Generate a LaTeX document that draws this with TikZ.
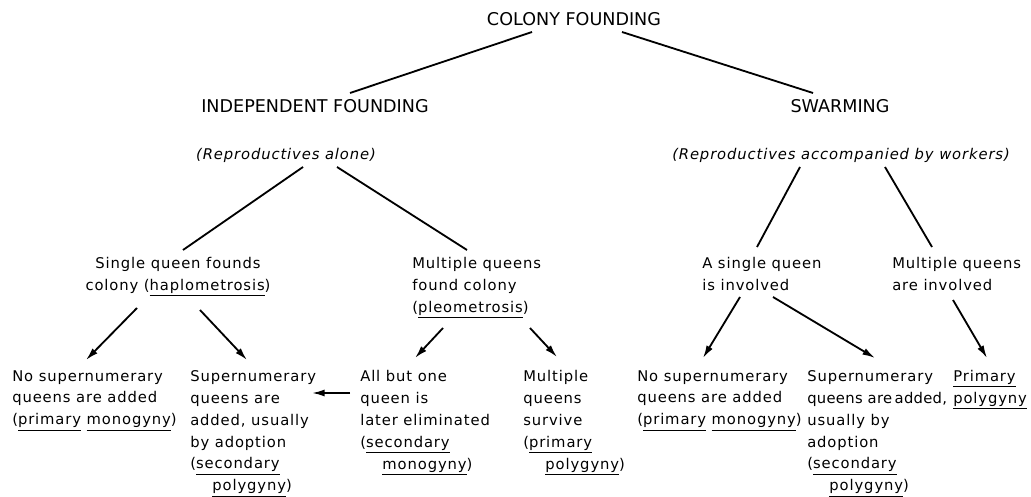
\documentclass[tikz,border=0pt]{standalone}
\usepackage{fontspec}
\setmainfont{DejaVu Sans}[LetterSpace=6]
\newfontfamily\headfont{DejaVu Sans}
\usetikzlibrary{arrows.meta}

\begin{document}
\begin{tikzpicture}[x=0.025cm, y=-0.025cm,
    head/.style={font=\headfont\fontsize{12.5}{15}\selectfont, inner sep=0pt, anchor=north},
    txt/.style={font=\fontsize{10.5}{15.6}\selectfont, inner sep=0pt, align=left, anchor=north west},
    paren/.style={txt, anchor=north, font=\fontsize{10.5}{15.6}\selectfont\itshape},
    link/.style={line width=1.3pt},
    arr/.style={line width=1.3pt, -{Latex[length=9pt,width=5pt]}}]
    \fill[white] (0,0) rectangle (1031,497);
    \useasboundingbox (0,0) rectangle (1031,497);

    \node[head] at (574,12) (Root) {COLONY FOUNDING};
    \node[head] at (315,99) (Indep) {INDEPENDENT FOUNDING};
    \node[head] at (840,99) (Swarm) {SWARMING};
    \node[paren] at (286,148) (Alone) {(Reproductives alone)};
    \node[paren] at (841,148) (Workers) {(Reproductives accompanied by workers)};
    \node[txt, anchor=north, align=center] at (178,257) (Haplo) {Single queen founds\\colony (\underline{haplometrosis})};
    \node[txt] at (412,257) (Pleo) {Multiple queens\\found colony\\(\underline{pleometrosis})};
    \node[txt] at (702,257) (OneQ) {A single queen\\is involved};
    \node[txt] at (892,257) (ManyQ) {Multiple queens\\are involved};
    \node[txt] at (12,370) (NoSupA) {No supernumerary\\queens are added\\(\underline{primary} \underline{monogyny})};
    \node[txt] at (190,370) (SupA) {Supernumerary\\queens are\\added, usually\\by adoption\\(\underline{secondary}\\\hspace*{1.5em}\underline{polygyny})};
    \node[txt] at (360,370) (Elim) {All but one\\queen is\\later eliminated\\(\underline{secondary}\\\hspace*{1.5em}\underline{monogyny})};
    \node[txt] at (523,370) (Surv) {Multiple\\queens\\survive\\(\underline{primary}\\\hspace*{1.5em}\underline{polygyny})};
    \node[txt] at (637,370) (NoSupB) {No supernumerary\\queens are added\\(\underline{primary} \underline{monogyny})};
    \node[txt] at (807,370) (SupB) {Supernumerary\\{\addfontfeature{LetterSpace=2}queens are\hspace{0.17em}added,}\\usually by\\adoption\\(\underline{secondary}\\\hspace*{1.5em}\underline{polygyny})};
    \node[txt] at (953,370) (PrimPoly) {\underline{Primary}\\\underline{polygyny}};

    \path [link] ([shift={(-42,20)}]Root.north) edge ([shift={(35,-6)}]Indep.north);
    \path [link] ([shift={(48,20)}]Root.north) edge ([shift={(-27,-6)}]Swarm.north);
    \path [link] ([shift={(17,19)}]Alone.north) edge ([shift={(5,-7)}]Haplo.north);
    \path [link] ([shift={(51,19)}]Alone.north) edge ([shift={(55,-7)}]Pleo.north west);
    \path [link] ([shift={(-41,19)}]Workers.north) edge ([shift={(55,-10)}]OneQ.north west);
    \path [link] ([shift={(44,19)}]Workers.north) edge ([shift={(40,-10)}]ManyQ.north west);
    \path [arr] ([shift={(-41,51)}]Haplo.north) edge ([shift={(74,-10)}]NoSupA.north west);
    \path [arr] ([shift={(22,53)}]Haplo.north) edge ([shift={(57,-10)}]SupA.north west);
    \path [arr] ([shift={(31,71)}]Pleo.north west) edge ([shift={(55,-12)}]Elim.north west);
    \path [arr] ([shift={(118,71)}]Pleo.north west) edge ([shift={(34,-13)}]Surv.north west);
    \path [arr] ([shift={(38,40)}]OneQ.north west) edge ([shift={(66,-12)}]NoSupB.north west);
    \path [arr] ([shift={(71,40)}]OneQ.north west) edge ([shift={(68,-12)}]SupB.north west);
    \path [arr] ([shift={(61,43)}]ManyQ.north west) edge ([shift={(34,-12)}]PrimPoly.north west);
    \path [arr] ([shift={(-10,23)}]Elim.north west) edge ([shift={(122,23)}]SupA.north west);
\end{tikzpicture}
\end{document}
